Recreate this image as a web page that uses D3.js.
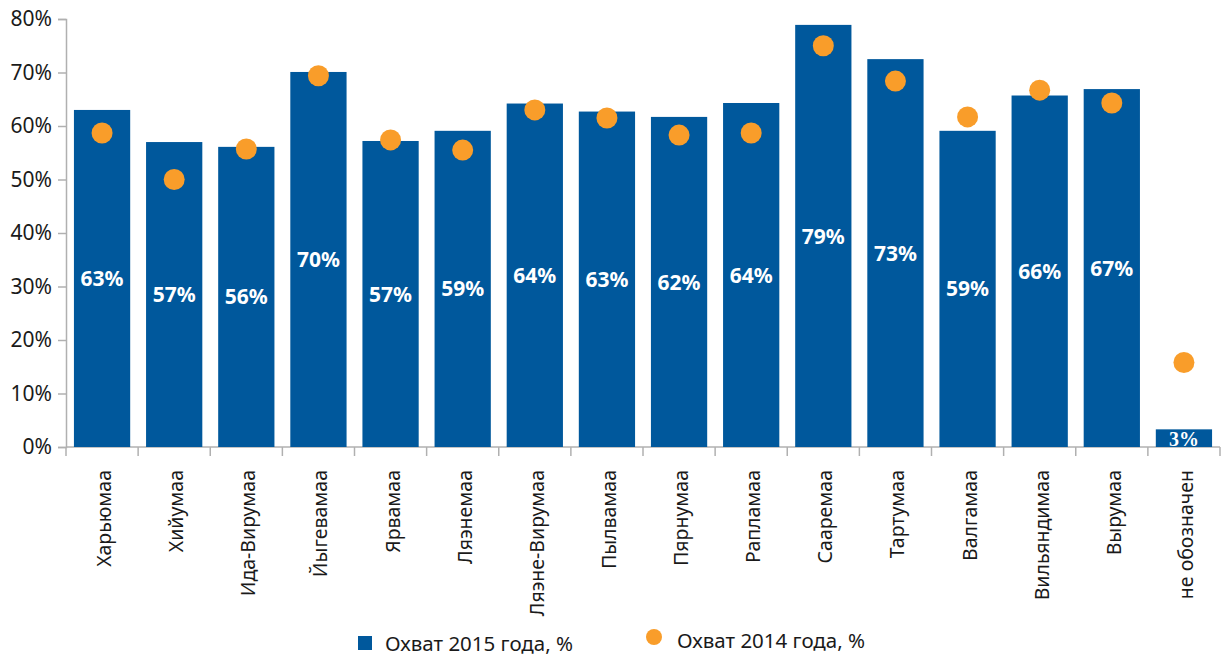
<!DOCTYPE html>
<html>
<head>
<meta charset="utf-8">
<script src="https://cdn.jsdelivr.net/npm/d3@7"></script>
<style>
  body { margin: 0; background: #fff; }
  text { font-family: "Noto Sans", "Open Sans", sans-serif; }
</style>
</head>
<body>
<script>
// Регионы и значения охвата
const regions = ["Харьюмаа", "Хийумаа", "Ида-Вирумаа", "Йыгевамаа", "Ярвамаа", "Ляэнемаа",
  "Ляэне-Вирумаа", "Пылвамаа", "Пярнумаа", "Рапламаа", "Сааремаа", "Тартумаа",
  "Валгамаа", "Вильяндимаа", "Вырумаа", "не обозначен"];
const cover2015 = [63.0, 57.0, 56.1, 70.1, 57.2, 59.1, 64.2, 62.7, 61.7, 64.3, 78.9, 72.5, 59.1, 65.7, 66.9, 3.3];
const cover2014 = [58.7, 50.0, 55.7, 69.4, 57.4, 55.5, 63.0, 61.5, 58.3, 58.7, 75.0, 68.4, 61.7, 66.7, 64.3, 15.8];
const yTicks = [0, 10, 20, 30, 40, 50, 60, 70, 80];
const legendLabels = ["Охват 2015 года, %", "Охват 2014 года, %"];

const blue = "#00589c", orange = "#f99d2a", grey = "#b0b0b0";

const svg = d3.select("body").append("svg").attr("width", 1223).attr("height", 656);

const x = d3.scaleBand().domain(regions).range([66, 1220]).paddingInner(0.22).paddingOuter(0.11);
const y = d3.scaleLinear().domain([0, 80]).range([447, 19]);

// оси
const yAxis = svg.append("g").attr("transform", "translate(66,0)")
  .call(d3.axisLeft(y).tickValues(yTicks).tickSize(8).tickFormat(d => d + "%"));
yAxis.select(".domain").attr("stroke", grey).attr("stroke-width", 1.5);
yAxis.selectAll(".tick line").attr("stroke", grey).attr("stroke-width", 1.5);
yAxis.selectAll(".tick text").attr("font-size", 21).attr("fill", "#1a1a1a").attr("x", -14)
  .style("font-family", "'Noto Sans', sans-serif");

// нижняя ось с делениями по границам категорий
const bounds = d3.range(regions.length + 1).map(i => 66 + i * (1154 / regions.length));
svg.append("line").attr("x1", 66).attr("x2", 1220).attr("y1", 447).attr("y2", 447)
  .attr("stroke", grey).attr("stroke-width", 1.5);
svg.selectAll(".xt").data(bounds).join("line")
  .attr("x1", d => d).attr("x2", d => d).attr("y1", 447).attr("y2", 456)
  .attr("stroke", grey).attr("stroke-width", 1.5);

// столбцы 2015
svg.selectAll(".bar").data(regions).join("rect")
  .attr("x", d => x(d)).attr("width", x.bandwidth())
  .attr("y", (d, i) => y(cover2015[i])).attr("height", (d, i) => y(0) - y(cover2015[i]))
  .attr("fill", blue);

// точки 2014
svg.selectAll(".dot").data(regions).join("circle")
  .attr("cx", d => x(d) + x.bandwidth() / 2).attr("cy", (d, i) => y(cover2014[i]))
  .attr("r", 10.5).attr("fill", orange);

// подписи значений (последняя - serif, как в оригинале)
const last = regions.length - 1;
svg.selectAll(".lab").data(regions).join("text")
  .attr("x", d => x(d) + x.bandwidth() / 2)
  .attr("y", (d, i) => i === last ? y(0) - 1 : (y(cover2015[i]) + y(0)) / 2)
  .attr("dy", (d, i) => i === last ? 0 : "0.36em")
  .attr("text-anchor", "middle").attr("fill", "#fff").attr("font-weight", "bold")
  .attr("font-size", (d, i) => i === last ? 20 : 21)
  .style("font-family", (d, i) => i === last ? "'Liberation Serif', serif" : "'Noto Sans', sans-serif")
  .text((d, i) => Math.round(cover2015[i]) + "%");

// подписи категорий
svg.selectAll(".cat").data(regions).join("text")
  .attr("transform", d => `translate(${x(d) + x.bandwidth() / 2 + 2},470) rotate(-90)`)
  .attr("dy", "0.36em").attr("text-anchor", "end")
  .attr("font-size", 19.5).attr("fill", "#1a1a1a")
  .text(d => d);

// легенда
svg.append("rect").attr("x", 358).attr("y", 636).attr("width", 14).attr("height", 14).attr("fill", blue);
svg.append("text").attr("x", 385).attr("y", 651).attr("font-size", 20.5).attr("fill", "#1a1a1a").text(legendLabels[0]);
svg.append("circle").attr("cx", 654).attr("cy", 637).attr("r", 8).attr("fill", orange);
svg.append("text").attr("x", 677).attr("y", 648).attr("font-size", 20.5).attr("fill", "#1a1a1a").text(legendLabels[1]);
</script>
</body>
</html>
